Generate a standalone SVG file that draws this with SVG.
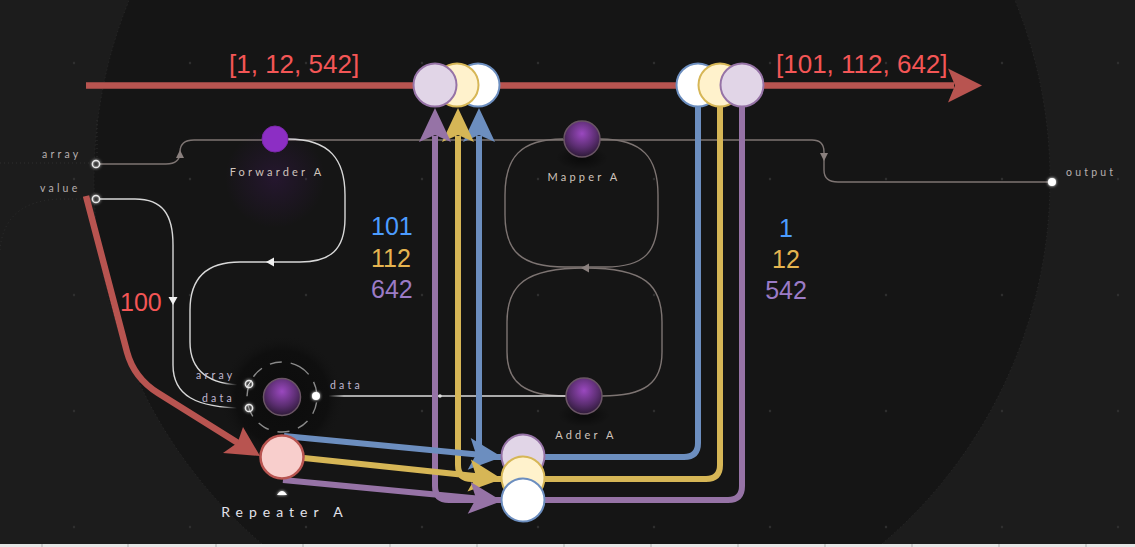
<svg xmlns="http://www.w3.org/2000/svg" width="1135" height="547" viewBox="0 0 1135 547">
<defs>
<style>
.lbl{font-family:Lato,"DejaVu Sans",sans-serif;font-size:10.5px;letter-spacing:3.2px;fill:#b8b0b0}
.plbl{font-family:Lato,"DejaVu Sans",sans-serif;font-size:10.5px;letter-spacing:3.2px;fill:#c0b8d0}
.nlbl{font-family:Lato,"DejaVu Sans",sans-serif;font-size:11px;letter-spacing:3.2px;fill:#d0c4bc;text-anchor:middle}
.num{font-family:"Liberation Sans",Arial,sans-serif;font-size:25px}
.top{font-family:"Liberation Sans",Arial,sans-serif;font-size:26px;fill:#f45656}
.gl{fill:none;stroke:#7d7472;stroke-width:1.4}
.wl{fill:none;stroke:#d8d8d8;stroke-width:1.4}
.cb{fill:none;stroke:#6c8ebf;stroke-width:6}
.cy{fill:none;stroke:#d6b656;stroke-width:6}
.cp{fill:none;stroke:#9673a6;stroke-width:6}
.cr{fill:none;stroke:#b85450;stroke-width:6.5}
.lil{fill:#e1d5e7;stroke:#9673a6;stroke-width:2}
.yel{fill:#fff2cc;stroke:#d6b656;stroke-width:2}
.wht{fill:#ffffff;stroke:#6c8ebf;stroke-width:2}
.port{fill:none;stroke:#e8e8e8;stroke-width:1.5}
.sph{fill:url(#sph);stroke:#6a5565;stroke-width:1.5}
</style>
<pattern id="grid" patternUnits="userSpaceOnUse" x="16" y="5" width="116" height="116">
<circle cx="58" cy="58" r="1.2" fill="#2f2f2f"/>
</pattern>
<radialGradient id="sph" cx="0.5" cy="0.35" r="0.65">
<stop offset="0" stop-color="#9a48bf"/>
<stop offset="0.6" stop-color="#5c2e72"/>
<stop offset="1" stop-color="#2e1a38"/>
</radialGradient>
<radialGradient id="halo" cx="0.5" cy="0.5" r="0.5">
<stop offset="0" stop-color="#0c0c0c"/>
<stop offset="0.75" stop-color="#0f0f0f"/>
<stop offset="1" stop-color="#151515" stop-opacity="0"/>
</radialGradient>
<radialGradient id="pglow" cx="0.5" cy="0.5" r="0.5">
<stop offset="0" stop-color="#4a1a6a" stop-opacity="0.3"/>
<stop offset="1" stop-color="#4a1a6a" stop-opacity="0"/>
</radialGradient>
<radialGradient id="shadow" cx="0.5" cy="0.5" r="0.5">
<stop offset="0" stop-color="#000" stop-opacity="0.55"/>
<stop offset="1" stop-color="#000" stop-opacity="0"/>
</radialGradient>
<filter id="glow" x="-100%" y="-100%" width="300%" height="300%">
<feGaussianBlur stdDeviation="1.6" result="b"/>
<feMerge><feMergeNode in="b"/><feMergeNode in="SourceGraphic"/></feMerge>
</filter>
</defs>

<!-- background -->
<rect width="1135" height="547" fill="#1c1c1c"/>
<circle cx="572" cy="180" r="478" fill="#151515" stroke="#2c2c2c" stroke-width="1" stroke-dasharray="1 3"/>
<rect width="1135" height="547" fill="url(#grid)"/>
<g stroke="#2e2e2e" stroke-width="1" stroke-dasharray="1 3" fill="none">
<path d="M0,163 L90,163"/>
<path d="M97,120 L97,158"/>
<path d="M0,250 Q4,201 60,199 L90,199"/>
</g>
<rect x="0" y="544" width="1135" height="3" fill="#e6e6e6"/>
<g stroke="#b0b0b0" stroke-width="1">
<path d="M42,544v3M128,544v3M216,544v3M303,544v3M390,544v3M477,544v3M564,544v3M651,544v3M738,544v3M825,544v3M912,544v3M999,544v3M1086,544v3"/>
</g>

<!-- machine connectors -->
<g id="machine-connectors">
<path class="gl" d="M100,164 L166,164 Q180,164 180,152 Q180,140 194,140 L812,140 Q824,140 824,152 L824,170 Q824,182 838,182 L1048,182"/>
<polygon points="176,158 184,158 180,150" fill="#8a807e"/>
<polygon points="820,153 828,153 824,161" fill="#8a807e"/>
<path class="wl" d="M288,139 C330,139 345,160 345,195 L345,218 C345,250 330,262 300,262 L240,262 C205,262 190,280 190,310 L190,342 C190,372 210,385 245,385"/>
<polygon points="266,262 274,257.5 274,266.5" fill="#f0f0f0"/>
<path class="wl" d="M100,199 L135,199 C163,199 173,215 173,245 L173,365 C173,395 195,408 245,408"/>
<polygon points="168.5,297 177.5,297 173,305" fill="#f0f0f0"/>
<path class="gl" d="M563,139 C520,139 505,158 505,195 L505,215 C505,252 522,267 565,267 L605,267 C645,267 658,252 658,215 L658,195 C658,158 643,139 600,139"/>
<path class="gl" d="M585,268 C525,268 507,285 507,322 L507,352 C507,383 525,396 566,396"/>
<path class="gl" d="M585,268 C645,268 662,285 662,322 L662,352 C662,383 645,396 602,396"/>
<polygon points="581,268 589,263.5 589,272.5" fill="#8a807e"/>
<path d="M316,396 L566,396" fill="none" stroke="#dcdcdc" stroke-width="1.4"/>
<circle cx="440" cy="396" r="1.8" fill="#e0e0e0"/>
</g>

<!-- machine nodes -->
<g id="input-array">
<text class="lbl" x="42" y="158">array</text>
<circle class="port" cx="96" cy="164" r="3.6" filter="url(#glow)"/>
</g>
<g id="input-value">
<text class="lbl" x="40" y="192">value</text>
<circle class="port" cx="96" cy="199" r="3.6" filter="url(#glow)"/>
</g>
<g id="forwarder-a">
<circle cx="275" cy="178" r="50" fill="url(#pglow)"/>
<circle cx="275" cy="139" r="13" fill="#8c2ec4" stroke="#7a28aa" stroke-width="1"/>
<text class="nlbl" x="277" y="176">Forwarder A</text>
</g>
<g id="mapper-a">
<ellipse cx="582" cy="158" rx="26" ry="12" fill="url(#shadow)"/>
<circle class="sph" cx="582" cy="139" r="18"/>
<text class="nlbl" x="584" y="181">Mapper A</text>
</g>
<g id="adder-a">
<ellipse cx="584" cy="415" rx="26" ry="12" fill="url(#shadow)"/>
<circle class="sph" cx="584" cy="396" r="18"/>
<text class="nlbl" x="586" y="439">Adder A</text>
</g>
<g id="output">
<circle cx="1052" cy="182" r="4" fill="#ffffff" filter="url(#glow)"/>
<text class="lbl" x="1066" y="176">output</text>
</g>
<g id="repeater-a">
<circle cx="282" cy="397" r="62" fill="url(#halo)"/>
<circle cx="282" cy="397" r="35" fill="none" stroke="#8a8a8a" stroke-width="1.4" stroke-dasharray="12 9" transform="rotate(-60 282 397)"/>
<circle class="sph" cx="282" cy="397" r="18.5"/>
<circle class="port" cx="249" cy="384" r="3.6" filter="url(#glow)"/>
<path d="M246.5,387.5 L251.5,380.5" stroke="#e8e8e8" stroke-width="1.2"/>
<circle class="port" cx="249" cy="408" r="3.6" filter="url(#glow)"/>
<circle cx="316" cy="396" r="4" fill="#ffffff" filter="url(#glow)"/>
<text class="plbl" x="196" y="379">array</text>
<text class="plbl" x="202" y="402">data</text>
<text class="plbl" x="330" y="389">data</text>
<path d="M277,495 Q282,487 287,495 Z" fill="#ffffff" filter="url(#glow)"/>
<text x="285" y="517" text-anchor="middle" font-family="Lato,'DejaVu Sans',sans-serif" font-size="14" letter-spacing="6" fill="#e2e2ea">Repeater A</text>
</g>

<!-- data connectors -->
<g id="connectors">
<path class="cr" d="M86,85.5 L954,85.5"/>
<polygon points="948,68.5 982,85.5 948,102.5 955,85.5" fill="#b85450"/>
<path class="cr" d="M86,196 L127,352 Q134,378 158,393 L238,443"/>
<polygon points="260,456 243,427 237.6,442.7 223,453" fill="#b85450"/>

<path class="cp" d="M742,107 L742,486 Q742,500 728,500 L449,500 Q435,500 435,486 L435,136"/>
<path class="cy" d="M720,107 L720,465 Q720,479 706,479 L472,479 Q458,479 458,465 L458,136"/>
<path class="cb" d="M698,107 L698,443 Q698,457 684,457 L493,457 Q479,457 479,443 L479,136"/>
<polygon points="479,108 495,142 479,135 463,142" fill="#6c8ebf"/>
<polygon points="458,108 474,142 458,135 442,142" fill="#d6b656"/>
<polygon points="435,108 451,142 435,135 419,142" fill="#9673a6"/>

<path class="cb" d="M284,436 L477,454.5"/>
<polygon points="502,457 470.7,437.9 476.1,454.5 467.7,469.7" fill="#6c8ebf"/>
<path class="cy" d="M304,458 L477,476.3"/>
<polygon points="502,479 470.9,459.6 476.1,476.3 467.5,491.4" fill="#d6b656"/>
<path class="cp" d="M283,480 L477,498.5"/>
<polygon points="502,501 470.7,482 476.1,498.5 467.7,513.8" fill="#9673a6"/>
</g>

<!-- data nodes -->
<g id="list-in">
<circle class="wht" cx="478" cy="85" r="21.5"/>
<circle class="yel" cx="457" cy="85" r="21.5"/>
<circle class="lil" cx="435" cy="85" r="21.5"/>
</g>
<g id="list-out">
<circle class="wht" cx="698" cy="85" r="21.5"/>
<circle class="yel" cx="720" cy="85" r="21.5"/>
<circle class="lil" cx="742" cy="85" r="21.5"/>
</g>
<g id="items">
<circle class="lil" cx="523" cy="456" r="21.5"/>
<circle class="yel" cx="523" cy="478" r="21.5"/>
<circle class="wht" cx="523" cy="500" r="21.5"/>
</g>
<g id="repeater-item">
<circle cx="282" cy="457" r="21.5" fill="#f8cecc" stroke="#b85450" stroke-width="2.5"/>
</g>

<!-- labels -->
<g id="labels">
<text class="top" x="229" y="73">[1, 12, 542]</text>
<text class="top" x="776" y="73">[101, 112, 642]</text>
<text class="num" x="120" y="311" fill="#f45656">100</text>
<text class="num" x="371" y="235" fill="#4c9cff">101</text>
<text class="num" x="371" y="267" fill="#e6b450">112</text>
<text class="num" x="371" y="298" fill="#9b7bc6">642</text>
<text class="num" x="786" y="237" text-anchor="middle" fill="#4c9cff">1</text>
<text class="num" x="786" y="268" text-anchor="middle" fill="#e6b450">12</text>
<text class="num" x="786" y="299" text-anchor="middle" fill="#9b7bc6">542</text>
</g>
</svg>
